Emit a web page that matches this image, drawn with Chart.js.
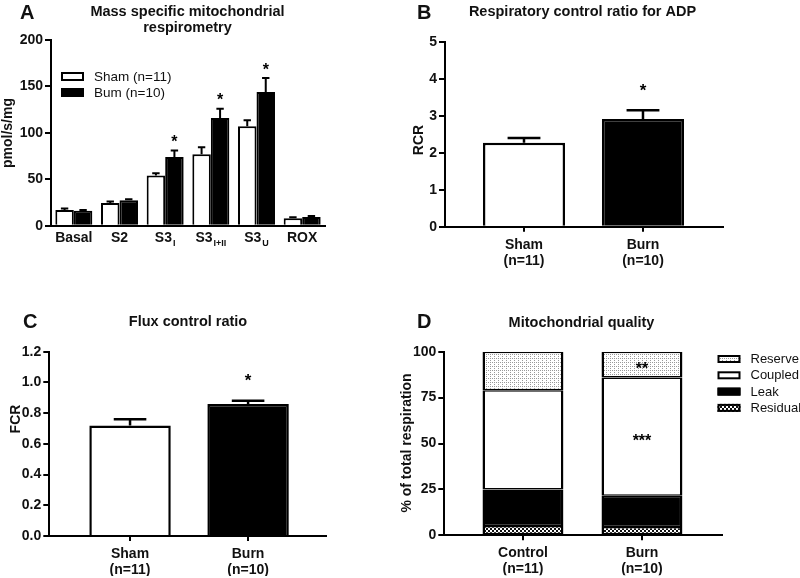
<!DOCTYPE html>
<html>
<head>
<meta charset="utf-8">
<script src="https://cdn.jsdelivr.net/npm/chart.js@4.4.1/dist/chart.umd.min.js"></script>
<style>
  body { margin: 0; background: #fff; width: 800px; height: 578px; position: relative; overflow: hidden; }
  canvas { position: absolute; }
</style>
</head>
<body>
<canvas id="chartA" width="400" height="290" style="left:0;top:0"></canvas>
<canvas id="chartB" width="400" height="290" style="left:400px;top:0"></canvas>
<canvas id="chartC" width="400" height="288" style="left:0;top:290px"></canvas>
<canvas id="chartD" width="400" height="288" style="left:400px;top:290px"></canvas>
<script>
// A - mass specific respirometry
var stateNames = ['Basal', 'S2', 'S3', 'S3', 'S3', 'ROX'];
var stateSubs = ['', '', 'I', 'I+II', 'U', ''];
var shamResp = [17, 24.5, 54, 77, 107, 8];
var shamRespErr = [1.5, 1.5, 2.5, 7.5, 6.5, 1];
var burnResp = [16, 27.5, 74, 116, 144, 9.5];
var burnRespErr = [1, 1, 7, 10, 15, 1];
var respStars = ['', '', '*', '*', '*', ''];
var respTicks = [0, 50, 100, 150, 200];

// B - RCR
var groupLabels = [['Sham', '(n=11)'], ['Burn', '(n=10)']];
var rcrValues = [2.27, 2.91];
var rcrErr = [0.13, 0.24];
var rcrStars = ['', '*'];
var rcrTicks = [0, 1, 2, 3, 4, 5];

// C - FCR
var fcrValues = [0.72, 0.86];
var fcrErr = [0.04, 0.02];
var fcrStars = ['', '*'];
var fcrTicks = [0, 0.2, 0.4, 0.6, 0.8, 1.0, 1.2];

// D - mitochondrial quality
var qualityLabels = [['Control', '(n=11)'], ['Burn', '(n=10)']];
var residualPct = [5, 4.5];
var leakPct = [20, 17];
var coupledPct = [54, 64.5];
var reservePct = [21, 14];
var coupledStars = ['', '***'];
var reserveStars = ['', '**'];
var qualityTicks = [0, 25, 50, 75, 100];

var FONT = "'Liberation Sans', Arial, sans-serif";
Chart.defaults.font.family = FONT;
Chart.defaults.color = '#111';
Chart.defaults.animation = false;

function makePattern(kind) {
  var c = document.createElement('canvas');
  c.width = 4; c.height = 4;
  var g = c.getContext('2d');
  g.fillStyle = '#fff';
  g.fillRect(0, 0, 4, 4);
  if (kind === 'dots') {
    g.fillStyle = '#999';
    g.fillRect(0, 0, 1, 1);
    g.fillRect(2, 2, 1, 1);
    g.fillRect(2, 0, 1, 1);
  } else {
    g.fillStyle = '#111';
    g.fillRect(0, 0, 2, 2);
    g.fillRect(2, 2, 2, 2);
  }
  return g.createPattern(c, 'repeat');
}

function xy(arr) {
  return arr.map(function (v, i) { return { x: i, y: v }; });
}

// error bars, stars, titles, legends
var decor = {
  id: 'decor',
  afterDatasetsDraw: function (chart, args, o) {
    var ctx = chart.ctx, ys = chart.scales.y;
    chart.data.datasets.forEach(function (ds, i) {
      var meta = chart.getDatasetMeta(i);
      meta.data.forEach(function (el, j) {
        var top = el.y;
        if (ds.errors) {
          var v = typeof ds.data[j] === 'object' ? ds.data[j].y : ds.data[j];
          top = ys.getPixelForValue(v + ds.errors[j]);
          var half = el.width * 0.2;
          ctx.save();
          ctx.strokeStyle = '#000';
          ctx.lineWidth = o.errWidth || 2;
          ctx.beginPath();
          ctx.moveTo(el.x, el.y);
          ctx.lineTo(el.x, top);
          ctx.moveTo(el.x - half, top);
          ctx.lineTo(el.x + half, top);
          ctx.stroke();
          ctx.restore();
        }
        if (ds.stars && ds.stars[j]) {
          var sy = o.starMid ? (el.y + el.base) / 2 : top - o.starGap;
          ctx.save();
          ctx.font = 'bold ' + o.starSize + 'px ' + FONT;
          ctx.textAlign = 'center';
          ctx.textBaseline = 'alphabetic';
          ctx.fillStyle = '#000';
          ctx.fillText(ds.stars[j], el.x, sy + o.starSize * 0.57);
          ctx.restore();
        }
      });
    });
  },
  afterDraw: function (chart, args, o) {
    var ctx = chart.ctx;
    ctx.save();
    ctx.fillStyle = '#111';
    // panel letter
    ctx.font = 'bold 20px ' + FONT;
    ctx.textAlign = 'left';
    ctx.textBaseline = 'alphabetic';
    ctx.fillText(o.letter[0], o.letter[1], o.letter[2]);
    // title
    ctx.font = 'bold 14.5px ' + FONT;
    ctx.textAlign = 'center';
    o.title.forEach(function (t) { ctx.fillText(t[0], t[1], t[2]); });
    // y title
    ctx.save();
    ctx.translate(o.yTitle[1], o.yTitle[2]);
    ctx.rotate(-Math.PI / 2);
    ctx.textBaseline = 'middle';
    ctx.font = 'bold 14px ' + FONT;
    ctx.fillText(o.yTitle[0], 0, 0);
    ctx.restore();
    // legend
    if (o.legend) {
      var L = o.legend;
      var dsets = chart.data.datasets.slice();
      if (L.reverse) dsets.reverse();
      ctx.font = L.font + ' ' + FONT;
      ctx.textAlign = 'left';
      ctx.textBaseline = 'middle';
      dsets.forEach(function (ds, i) {
        var by = L.y + i * L.gap;
        ctx.fillStyle = ds.backgroundColor;
        ctx.fillRect(L.x, by, L.w, L.h);
        ctx.strokeStyle = '#000';
        ctx.lineWidth = 2;
        ctx.strokeRect(L.x + 1, by + 1, L.w - 2, L.h - 2);
        ctx.fillStyle = '#111';
        ctx.fillText(ds.label, L.textX, by + L.h / 2 + 0.5);
      });
    }
    // category labels with subscripts
    if (o.subLabels) {
      var xs = chart.scales.x;
      var base = chart.chartArea.bottom + 16.5;
      o.subLabels.names.forEach(function (name, i) {
        var sub = o.subLabels.subs[i];
        ctx.font = 'bold 14px ' + FONT;
        var w1 = ctx.measureText(name).width;
        ctx.font = 'bold 9px ' + FONT;
        var w2 = sub ? ctx.measureText(sub).width + 1 : 0;
        var x0 = xs.getPixelForTick(i) - (w1 + w2) / 2;
        ctx.textAlign = 'left';
        ctx.textBaseline = 'alphabetic';
        ctx.fillStyle = '#111';
        ctx.font = 'bold 14px ' + FONT;
        ctx.fillText(name, x0, base);
        if (sub) {
          ctx.font = 'bold 9px ' + FONT;
          ctx.fillText(sub, x0 + w1 + 1, base + 3.5);
        }
      });
    }
    ctx.restore();
  }
};

function yAxis(ticks, width, fmt) {
  return {
    min: ticks[0],
    max: ticks[ticks.length - 1],
    afterBuildTicks: function (s) { s.ticks = ticks.map(function (v) { return { value: v }; }); },
    afterFit: function (s) { s.width = width; },
    grid: { drawOnChartArea: false, color: '#000', lineWidth: 2, tickLength: 6 },
    border: { color: '#000', width: 2 },
    ticks: { font: { size: 14, weight: 'bold' }, color: '#111', padding: 2, callback: fmt }
  };
}

function groupAxis(labels, min, max, h) {
  return {
    type: 'linear',
    min: min,
    max: max,
    offset: false,
    afterBuildTicks: function (s) { s.ticks = labels.map(function (l, i) { return { value: i }; }); },
    afterFit: function (s) { s.height = h; },
    grid: { drawOnChartArea: false, offset: false, color: '#000', lineWidth: 2, tickLength: 5 },
    border: { color: '#000', width: 2 },
    ticks: {
      font: { size: 14, weight: 'bold', lineHeight: 1.15 }, color: '#111', padding: 5,
      maxRotation: 0, autoSkip: false,
      callback: function (v) { return labels[v]; }
    }
  };
}

function pad(l, t, r, b, H, xh) {
  return { left: 0, top: t, right: 400 - r, bottom: H - b - xh };
}

// Panel A
new Chart(document.getElementById('chartA'), {
  type: 'bar',
  data: {
    labels: stateNames,
    datasets: [{
      label: 'Sham (n=11)',
      data: shamResp,
      errors: shamRespErr,
      backgroundColor: '#fff',
      borderColor: '#000',
      borderWidth: 2
    }, {
      label: 'Bum (n=10)',
      data: burnResp,
      errors: burnRespErr,
      stars: respStars,
      backgroundColor: '#000',
      borderColor: '#000',
      borderWidth: 2
    }]
  },
  options: {
    responsive: false,
    categoryPercentage: 0.81,
    barPercentage: 1,
    layout: { padding: pad(51, 40, 325, 225.7, 290, 40) },
    scales: {
      x: {
        afterFit: function (s) { s.height = 40; },
        grid: { display: false },
        border: { color: '#000', width: 2 },
        ticks: { display: false }
      },
      y: yAxis(respTicks, 51)
    },
    plugins: {
      legend: { display: false },
      tooltip: { enabled: false },
      decor: {
        letter: ['A', 20, 19],
        title: [['Mass specific mitochondrial', 187.5, 15.5], ['respirometry', 187.5, 32]],
        yTitle: ['pmol/s/mg', 8.5, 133],
        starGap: 12.5, starSize: 16, errWidth: 2,
        legend: { x: 61, y: 72, w: 23, h: 9, gap: 16, textX: 94, font: '13.5px' },
        subLabels: { names: stateNames, subs: stateSubs }
      }
    }
  },
  plugins: [decor]
});

// Panel B
new Chart(document.getElementById('chartB'), {
  type: 'bar',
  data: {
    datasets: [{
      data: xy(rcrValues),
      errors: rcrErr,
      stars: rcrStars,
      backgroundColor: ['#fff', '#000'],
      borderColor: '#000',
      borderWidth: 2.5
    }]
  },
  options: {
    responsive: false,
    categoryPercentage: 0.69,
    barPercentage: 1,
    layout: { padding: pad(45, 41.7, 322.7, 226.7, 290, 45) },
    scales: {
      x: groupAxis(groupLabels, -0.664, 1.67, 45),
      y: yAxis(rcrTicks, 45)
    },
    plugins: {
      legend: { display: false },
      tooltip: { enabled: false },
      decor: {
        letter: ['B', 17, 19],
        title: [['Respiratory control ratio for ADP', 182.5, 16]],
        yTitle: ['RCR', 19, 140],
        starGap: 24, starSize: 17, errWidth: 2.5
      }
    }
  },
  plugins: [decor]
});

// Panel C
new Chart(document.getElementById('chartC'), {
  type: 'bar',
  data: {
    datasets: [{
      data: xy(fcrValues),
      errors: fcrErr,
      stars: fcrStars,
      backgroundColor: ['#fff', '#000'],
      borderColor: '#000',
      borderWidth: 2.5
    }]
  },
  options: {
    responsive: false,
    categoryPercentage: 0.69,
    barPercentage: 1,
    layout: { padding: pad(49.3, 61.7, 326, 246, 288, 40) },
    scales: {
      x: groupAxis(groupLabels, -0.684, 1.66, 40),
      y: yAxis(fcrTicks, 49.3, function (v) { return v.toFixed(1); })
    },
    plugins: {
      legend: { display: false },
      tooltip: { enabled: false },
      decor: {
        letter: ['C', 23, 37.5],
        title: [['Flux control ratio', 188, 36]],
        yTitle: ['FCR', 16, 129],
        starGap: 25, starSize: 17, errWidth: 2.5
      }
    }
  },
  plugins: [decor]
});

// Panel D
var dotPattern = makePattern('dots');
var checkPattern = makePattern('check');
var segBorder = { left: 2.5, right: 2.5, top: 1.5, bottom: 1.5 };
new Chart(document.getElementById('chartD'), {
  type: 'bar',
  data: {
    datasets: [
      { label: 'Residual', data: xy(residualPct), backgroundColor: checkPattern, borderColor: '#000', borderWidth: segBorder, borderSkipped: false },
      { label: 'Leak', data: xy(leakPct), backgroundColor: '#000', borderColor: '#000', borderWidth: segBorder, borderSkipped: false },
      { label: 'Coupled', data: xy(coupledPct), stars: coupledStars, backgroundColor: '#fff', borderColor: '#000', borderWidth: segBorder, borderSkipped: false },
      { label: 'Reserve', data: xy(reservePct), stars: reserveStars, backgroundColor: dotPattern, borderColor: '#000', borderWidth: segBorder, borderSkipped: false }
    ]
  },
  options: {
    responsive: false,
    categoryPercentage: 0.68,
    barPercentage: 1,
    layout: { padding: pad(44.3, 61.7, 321.7, 245.3, 288, 40) },
    scales: {
      x: Object.assign(groupAxis(qualityLabels, -0.661, 1.67, 40), { stacked: true }),
      y: Object.assign(yAxis(qualityTicks, 44.3), { stacked: true })
    },
    plugins: {
      legend: { display: false },
      tooltip: { enabled: false },
      decor: {
        letter: ['D', 17, 37.5],
        title: [['Mitochondrial quality', 181.5, 36.5]],
        yTitle: ['% of total respiration', 7, 153],
        starMid: true, starSize: 16,
        legend: { x: 317.5, y: 65, w: 23, h: 8, gap: 16.3, textX: 350.5, font: '13px', reverse: true }
      }
    }
  },
  plugins: [decor]
});
</script>
</body>
</html>
